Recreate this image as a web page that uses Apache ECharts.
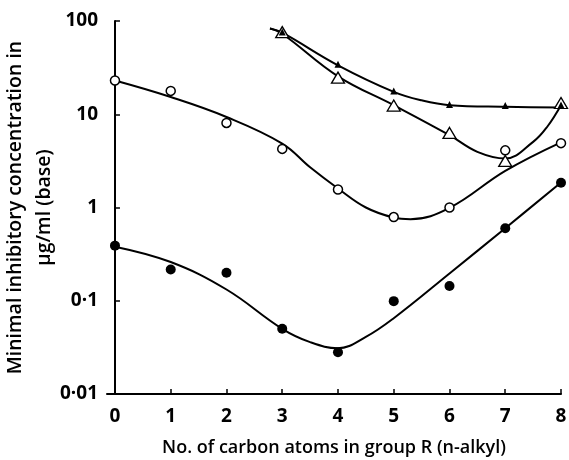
<!DOCTYPE html>
<html>
<head>
<meta charset="utf-8">
<script src="https://cdn.jsdelivr.net/npm/echarts@6/dist/echarts.min.js"></script>
<style>
  html, body { margin: 0; padding: 0; background: #fff; }
  #chart { width: 569px; height: 460px; }
</style>
</head>
<body>
<div id="chart"></div>
<script>
// measured points, x = no. of carbon atoms
const carbons = [0, 1, 2, 3, 4, 5, 6, 7, 8];
const filledCircles = [0.39, 0.216, 0.2, 0.05, 0.028, 0.099, 0.144, 0.6, 1.84];
const openCircles = [23, 17.8, 8.07, 4.25, 1.56, 0.79, 1.0, 4.1, 4.9];
const openTriCarbons = [3, 4, 5, 6, 7, 8];
const openTriangles = [76, 24.7, 12.4, 6.3, 3.16, 13.2];
const filledTriCarbons = [3, 4, 5, 6, 7, 8];
const filledTriangles = [76, 34.3, 17.8, 12.7, 12.4, 12.6];

// hand-drawn curves
const curveFilledCircleX = [0, 1, 2, 3, 3.5, 4, 4.5, 5, 6, 7, 8];
const curveFilledCircleY = [0.38, 0.26, 0.132, 0.05, 0.036, 0.031, 0.041, 0.065, 0.196, 0.6, 1.85];
const curveOpenCircleX = [0, 1, 2, 3, 3.5, 4, 4.5, 5, 5.3, 6, 7, 8];
const curveOpenCircleY = [23, 15.3, 9.35, 4.85, 2.7, 1.6, 1.0, 0.78, 0.75, 0.99, 2.47, 5.0];
const curveOpenTriX = [2.78, 3, 4, 5, 6, 6.5, 7, 7.5, 7.75, 8];
const curveOpenTriY = [83, 73, 25.5, 12.5, 5.96, 3.95, 3.35, 5.05, 7.3, 12.5];
const curveFilledTriX = [2.78, 3, 4, 5, 5.5, 6, 7, 8];
const curveFilledTriY = [83, 75, 33.5, 17.4, 14.1, 12.5, 12.0, 11.8];

const xTicks = [0, 1, 2, 3, 4, 5, 6, 7, 8];
const yTickLabels = { 0.01: '0·01', 0.1: '0·1', 1: '1', 10: '10', 100: '100' };

const pair = (xs, ys) => xs.map((x, i) => [x, ys[i]]);

const chart = echarts.init(document.getElementById('chart'));

const curve = (xs, ys) => ({
  type: 'line',
  data: pair(xs, ys),
  smooth: 0.4,
  symbol: 'none',
  lineStyle: { color: '#000', width: 2 },
  z: 2,
  silent: true,
});

const labelFont = { fontFamily: 'Open Sans', fontWeight: 'bold', fontSize: 19, color: '#000' };

chart.setOption({
  animation: false,
  backgroundColor: '#fff',
  grid: { left: 107, right: 8, top: 21, bottom: 66, containLabel: false, outerBoundsMode: 'none' },
  xAxis: {
    type: 'value',
    min: -0.143,
    max: 8,
    name: 'No. of carbon atoms in group R (n-alkyl)',
    nameLocation: 'middle',
    nameGap: 45,
    nameTextStyle: { fontFamily: 'Open Sans', fontWeight: 600, fontSize: 18, color: '#000' },
    axisLine: { lineStyle: { color: '#000', width: 2 } },
    axisTick: { inside: true, length: 5, customValues: xTicks, lineStyle: { color: '#000', width: 1.5 } },
    axisLabel: { ...labelFont, margin: 13, customValues: xTicks },
    splitLine: { show: false },
  },
  yAxis: {
    type: 'log',
    logBase: 10,
    min: 0.01,
    max: 100,
    name: 'Minimal inhibitory concentration in\nμg/ml (base)',
    nameLocation: 'middle',
    nameGap: 48,
    nameMoveOverlap: false,
    nameRotate: 90,
    nameTextStyle: { fontFamily: 'Open Sans', fontWeight: 600, fontSize: 19.5, lineHeight: 29, color: '#000' },
    axisLine: { show: true, lineStyle: { color: '#000', width: 2 } },
    axisTick: { inside: true, length: 5, lineStyle: { color: '#000', width: 1.5 } },
    axisLabel: { ...labelFont, margin: 9, formatter: (v) => yTickLabels[v] ?? '' },
    splitLine: { show: false },
  },
  series: [
    curve(curveFilledCircleX, curveFilledCircleY),
    curve(curveOpenCircleX, curveOpenCircleY),
    curve(curveOpenTriX, curveOpenTriY),
    curve(curveFilledTriX, curveFilledTriY),
    {
      type: 'scatter',
      data: pair(carbons, filledCircles),
      symbol: 'circle',
      symbolSize: 10,
      itemStyle: { color: '#000', opacity: 1 },
      z: 5,
    },
    {
      type: 'scatter',
      data: pair(carbons, openCircles),
      symbol: 'circle',
      symbolSize: 9,
      itemStyle: { color: '#fff', borderColor: '#000', borderWidth: 1.5, opacity: 1 },
      z: 5,
    },
    {
      type: 'scatter',
      data: pair(openTriCarbons, openTriangles),
      symbol: 'triangle',
      symbolSize: [13, 11],
      itemStyle: { color: '#fff', borderColor: '#000', borderWidth: 1.3, opacity: 1 },
      z: 5,
    },
    {
      type: 'scatter',
      data: pair(filledTriCarbons, filledTriangles),
      symbol: 'triangle',
      symbolSize: [7, 7],
      itemStyle: { color: '#000', opacity: 1 },
      z: 6,
    },
  ],
});
</script>
</body>
</html>
